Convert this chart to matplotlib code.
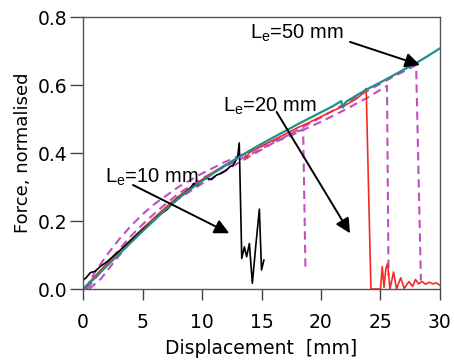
import matplotlib
matplotlib.use("Agg")
import matplotlib.pyplot as plt

# measured curves (displacement in mm, normalised force)
le50_x = [0, 1, 2, 3, 4, 5, 6, 7, 8, 9, 10, 11, 12, 13, 14, 15, 16, 17, 18, 19, 20,
          21, 21.7, 21.85, 22.1, 23, 24, 25, 26, 27, 28, 29, 30]
le50_y = [0.0, 0.033, 0.068, 0.102, 0.136, 0.17, 0.203, 0.236, 0.266, 0.293, 0.318,
          0.342, 0.364, 0.386, 0.407, 0.427, 0.446, 0.465, 0.484, 0.502, 0.52,
          0.538, 0.553, 0.534, 0.551, 0.57, 0.59, 0.608, 0.627, 0.646, 0.665,
          0.686, 0.708]

le20_x = [0, 1, 2, 3, 4, 5, 6, 7, 8, 9, 10, 11, 12, 13, 13.6, 13.75, 13.9, 14, 15, 16,
          17, 18, 19, 20, 21, 22, 23, 23.5, 23.8, 24.2, 25.0, 25.15, 25.3, 25.45, 25.6,
          25.8, 26.1, 26.35, 26.7, 27.0, 27.4, 27.7, 27.95, 28.2, 28.5, 28.8, 29.1,
          29.4, 29.7, 29.95]
le20_y = [0.0, 0.038, 0.075, 0.11, 0.145, 0.178, 0.21, 0.242, 0.272, 0.298, 0.322,
          0.345, 0.366, 0.386, 0.399, 0.384, 0.398, 0.402, 0.42, 0.438, 0.456, 0.474,
          0.49, 0.507, 0.524, 0.54, 0.56, 0.575, 0.59, 0.0, 0.0, 0.066, 0.005, 0.06,
          0.075, 0.0, 0.05, 0.0, 0.033, 0.002, 0.022, 0.008, 0.028, 0.015, 0.022,
          0.014, 0.02, 0.015, 0.018, 0.012]

le10_x = [0, 0.3, 0.6, 1, 1.5, 2, 3, 4, 5, 6, 6.4, 7, 7.5, 8, 8.5, 9, 9.3, 9.6, 10,
          10.4, 10.8, 11.2, 11.6, 12, 12.35, 12.6, 12.86, 13.0, 13.13, 13.34, 13.56,
          13.75, 13.98, 14.23, 14.51, 14.82, 15.0, 15.2]
le10_y = [0.025, 0.035, 0.048, 0.052, 0.068, 0.08, 0.11, 0.142, 0.174, 0.203, 0.218,
          0.232, 0.25, 0.268, 0.28, 0.296, 0.31, 0.305, 0.32, 0.326, 0.322, 0.335,
          0.34, 0.348, 0.36, 0.364, 0.379, 0.39, 0.43, 0.09, 0.124, 0.095, 0.134,
          0.017, 0.124, 0.235, 0.056, 0.085]

# model predictions (dashed)
model_a_x = [0.2, 1, 2, 3, 4, 5, 6, 7, 8, 10, 12, 14, 16, 18.5, 18.7]
model_a_y = [0.0, 0.05, 0.1, 0.145, 0.185, 0.22, 0.25, 0.275, 0.3, 0.34, 0.375,
             0.405, 0.435, 0.47, 0.05]
model_b_x = [0.3, 1, 2, 3, 4, 5, 6, 7, 8, 10, 12, 14, 16, 18, 20, 22, 24, 25.55, 25.68]
model_b_y = [0.0, 0.03, 0.075, 0.115, 0.155, 0.19, 0.222, 0.252, 0.28, 0.325, 0.362,
             0.395, 0.43, 0.46, 0.492, 0.527, 0.565, 0.598, 0.04]
model_c_x = [0.5, 1.5, 2.5, 4, 5, 6, 7, 8, 10, 12, 14, 16, 18, 20, 22, 24, 26, 28, 28.4]
model_c_y = [0.0, 0.03, 0.075, 0.14, 0.176, 0.208, 0.238, 0.265, 0.31, 0.35, 0.39,
             0.43, 0.467, 0.505, 0.545, 0.585, 0.623, 0.659, 0.025]

labels = ["L$_\\mathregular{e}$=10 mm", "L$_\\mathregular{e}$=20 mm", "L$_\\mathregular{e}$=50 mm"]
label_pos = [(1.85, 0.33), (11.76, 0.538), (14.0, 0.752)]
arrow_tail = [(4.2, 0.306), (16.27, 0.521), (22.44, 0.727)]
arrow_tip = [(12.29, 0.164), (22.44, 0.164), (28.32, 0.659)]

fig = plt.figure(figsize=(4.54, 3.64), dpi=100)
ax = fig.add_axes([0.183, 0.206, 0.786, 0.747])

dash = dict(color="#c04fc0", lw=1.5, ls=(0, (4, 2.5)))
ax.plot(model_a_x, model_a_y, **dash)
ax.plot(model_b_x, model_b_y, **dash)
ax.plot(model_c_x, model_c_y, **dash)
ax.plot(le20_x, le20_y, color="#f42a22", lw=1.2)
ax.plot(le10_x, le10_y, color="black", lw=1.2)
ax.plot(le50_x, le50_y, color="#1f8f8c", lw=1.6)

for txt, pos, tail, tip in zip(labels, label_pos, arrow_tail, arrow_tip):
    ax.text(pos[0], pos[1], txt, fontsize=14.5, family="Liberation Sans",
            va="center", ha="left")
    ax.annotate("", xy=tip, xytext=tail,
                arrowprops=dict(arrowstyle="-|>", color="black", lw=1.4,
                                mutation_scale=22, shrinkA=0, shrinkB=0))

ax.set_xlim(0, 30)
ax.set_ylim(0, 0.8)
ax.set_xticks([0, 5, 10, 15, 20, 25, 30])
ax.set_yticks([0.0, 0.2, 0.4, 0.6, 0.8])
ax.set_yticklabels(["0.0", "0.2", "0.4", "0.6", "0.8"])
ax.tick_params(direction="out", width=1, colors="#444444",
               labelcolor="black", labelsize=13.5)
ax.tick_params(axis="x", length=8, pad=9.5)
ax.tick_params(axis="y", length=9.5, pad=1.5)
for s in ax.spines.values():
    s.set_color("#555555")
    s.set_linewidth(1)
ax.set_xlabel("Displacement  [mm]", fontsize=13.5, labelpad=5)
ax.set_ylabel("Force, normalised", fontsize=13, labelpad=4)

fig.savefig("out.png", dpi=100)
